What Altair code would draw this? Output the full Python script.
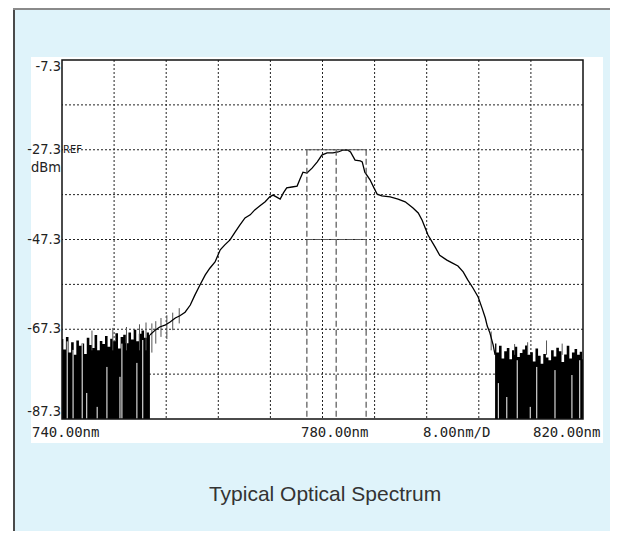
import altair as alt
import pandas as pd

# ---- data ----
curve_nm = [753.5,754.3,755.0,755.8,756.6,757.4,758.1,758.9,759.7,760.4,761.2,762.0,762.7,763.5,764.3,765.0,765.8,766.6,767.3,768.1,768.9,769.6,770.4,771.2,771.9,772.4,772.9,773.5,774.0,774.5,775.3,776.1,776.5,777.0,777.6,778.4,779.2,779.9,780.7,781.6,782.4,783.1,783.9,784.3,785.0,785.8,786.1,786.5,787.3,787.9,788.4,789.1,790.4,791.6,792.7,793.9,794.7,795.3,796.2,797.3,798.0,799.1,799.9,800.8,801.6,802.3,803.1,803.9,804.5,805.0,805.3,805.7,806.2,806.5]
curve_db = [-68.6,-67.5,-66.8,-66.4,-65.7,-64.8,-64.3,-63.5,-61.9,-59.7,-57.4,-55.2,-53.7,-52.3,-49.6,-48.5,-47.4,-45.6,-44.1,-42.5,-41.8,-40.7,-39.8,-38.9,-37.8,-37.4,-37.8,-38.3,-36.9,-35.8,-35.6,-35.4,-34.0,-32.3,-32.5,-31.4,-30.0,-28.5,-28.0,-28.0,-27.8,-27.4,-27.4,-27.8,-29.6,-29.8,-30.0,-32.3,-34.0,-35.8,-37.2,-37.6,-37.8,-38.3,-38.9,-40.3,-41.4,-43.0,-46.3,-49.0,-50.8,-51.9,-52.5,-53.2,-54.5,-56.3,-58.1,-60.1,-62.6,-64.8,-66.6,-68.1,-70.8,-73.0]

left_nm = [740.0,740.4,740.8,741.2,741.6,742.0,742.4,742.8,743.2,743.6,744.0,744.4,744.8,745.2,745.6,746.0,746.4,746.8,747.2,747.6,748.0,748.4,748.8,749.2,749.6,750.0,750.4,750.8,751.2,751.6,752.0,752.4,752.8,753.2,753.5]
left_top = [-69.5,-71.8,-69.0,-72.5,-70.2,-73.0,-69.8,-71.0,-70.5,-72.8,-69.2,-70.8,-71.5,-68.6,-72.0,-69.9,-70.6,-68.8,-71.2,-69.4,-70.0,-68.2,-71.6,-69.0,-68.5,-70.4,-68.0,-69.6,-67.4,-70.0,-68.3,-67.6,-69.2,-68.0,-68.6]

right_nm = [806.5,806.9,807.3,807.7,808.1,808.5,808.9,809.3,809.7,810.1,810.5,810.9,811.3,811.7,812.1,812.5,812.9,813.3,813.7,814.1,814.5,814.9,815.3,815.7,816.1,816.5,816.9,817.3,817.7,818.1,818.5,818.9,819.3,819.7,820.0]
right_top = [-70.5,-72.5,-71.0,-73.8,-72.2,-71.5,-74.0,-72.0,-71.2,-73.5,-72.6,-71.8,-70.9,-73.0,-72.4,-74.5,-71.6,-73.2,-75.0,-72.8,-73.6,-74.2,-72.0,-73.4,-71.4,-72.2,-74.6,-72.9,-71.0,-73.8,-72.5,-71.7,-73.0,-72.3,-74.0]

gap_nm = [740.8,741.7,743.1,743.8,745.4,746.9,748.9,749.2,751.5,752.4,807.0,808.3,809.9,811.9,812.9,815.7,818.3,819.5]
gap_top = [-70.0,-71.9,-70.5,-81.5,-84.6,-75.7,-77.9,-70.5,-74.8,-69.7,-79.3,-82.4,-74.2,-84.6,-75.7,-76.4,-77.5,-74.2]

# grey spikes (noise riding on the trace)
spike_nm = [744.6,747.8,749.9,751.9,752.9,753.8,754.4,755.2,756.1,757.0,758.0,805.9,809.5,811.5,814.4,816.8]
spike_top = [-67.6,-67.0,-66.8,-66.2,-65.8,-66.0,-65.5,-64.8,-64.2,-63.6,-62.6,-67.8,-70.6,-70.2,-69.8,-70.5]
spike_bot = [-72.0,-72.0,-72.0,-72.0,-72.0,-72.5,-70.5,-69.0,-69.5,-67.5,-66.0,-72.0,-73.0,-73.0,-73.0,-73.0]

marker_nm = [777.6, 782.1, 786.7]
marker_db = [-27.3, -47.3]

grid_nm = [748, 756, 764, 772, 780, 788, 796, 804, 812]
grid_db = [-77.3, -67.3, -57.3, -47.3, -37.3, -27.3, -17.3]
label_db = [-87.3, -67.3, -47.3, -27.3, -7.3]
label_txt = ["-87.3", "-67.3", "-47.3", "-27.3", "-7.3"]

x_texts = ["740.00nm", "780.00nm", "8.00nm/D", "820.00nm"]
title_text = "Typical Optical Spectrum"

FLOOR = -87.3
XD = [740, 820]
YD = [-87.3, -7.3]
xs = alt.Scale(domain=XD, nice=False, zero=False)
ys = alt.Scale(domain=YD, nice=False, zero=False)

one = pd.DataFrame({"k": [0]})
NARROW = "Liberation Sans Narrow, DejaVu Sans Condensed, Liberation Sans"

X = lambda f: alt.X(f, scale=xs, axis=None)
Y = lambda f: alt.Y(f, scale=ys, axis=None)

# ---- decorations ----
panel = alt.Chart(one).mark_rect(color="white").encode(
    x=alt.value(-31), x2=alt.value(541), y=alt.value(-3), y2=alt.value(383))
left_strip = alt.Chart(one).mark_rect(color="white").encode(
    x=alt.value(-60), x2=alt.value(-49), y=alt.value(-60), y2=alt.value(480))
left_border = alt.Chart(one).mark_rule(color="#4a4a4a", strokeWidth=2).encode(
    x=alt.value(-48), y=alt.value(-52), y2=alt.value(480))
top_border = alt.Chart(one).mark_rule(color="#8a8a8a", strokeWidth=2).encode(
    x=alt.value(-49), x2=alt.value(560), y=alt.value(-51))

# ---- grid ----
gx = alt.Chart(pd.DataFrame({"nm": grid_nm})).mark_rule(
    color="#222", strokeWidth=1, strokeDash=[2, 2]).encode(x=X("nm:Q"))
gy = alt.Chart(pd.DataFrame({"db": grid_db})).mark_rule(
    color="#222", strokeWidth=1, strokeDash=[2, 2]).encode(y=Y("db:Q"))

# ---- noise ----
noise_df = pd.concat([
    pd.DataFrame({"nm": left_nm, "top": left_top, "side": "L"}),
    pd.DataFrame({"nm": right_nm, "top": right_top, "side": "R"}),
])
noise_df["floor"] = FLOOR
noise = alt.Chart(noise_df).mark_area(color="black", opacity=1, interpolate="step").encode(
    x=X("nm:Q"), y=Y("top:Q"), y2="floor:Q", detail="side:N")
spikes = alt.Chart(pd.DataFrame({"nm": spike_nm, "top": spike_top, "bot": spike_bot})).mark_rule(
    color="#555", strokeWidth=1).encode(x=X("nm:Q"), y=Y("top:Q"), y2="bot:Q")
gaps = alt.Chart(pd.DataFrame({"nm": gap_nm, "top": gap_top, "floor": FLOOR})).mark_rule(
    color="white", strokeWidth=1).encode(x=X("nm:Q"), y=Y("top:Q"), y2="floor:Q")

# ---- spectrum ----
curve = alt.Chart(pd.DataFrame({"nm": curve_nm, "db": curve_db})).mark_line(
    color="black", strokeWidth=1.3).encode(x=X("nm:Q"), y=Y("db:Q"))

# ---- markers ----
mv = alt.Chart(pd.DataFrame({"nm": marker_nm, "top": marker_db[0], "floor": FLOOR})).mark_rule(
    color="#555", strokeWidth=1.2, strokeDash=[6, 3]).encode(
    x=X("nm:Q"), y=Y("top:Q"), y2="floor:Q")
mh = alt.Chart(pd.DataFrame({"db": marker_db, "a": marker_nm[0], "b": marker_nm[-1]})).mark_rule(
    color="#555", strokeWidth=1.2, strokeDash=[6, 2]).encode(
    x=X("a:Q"), x2="b:Q", y=Y("db:Q"))

# ---- frame ----
frame = alt.Chart(pd.DataFrame({"x0": [XD[0]], "x1": [XD[1]], "y0": [YD[0]], "y1": [YD[1]]})).mark_rect(
    fill=None, stroke="#111", strokeWidth=1.5).encode(
    x=X("x0:Q"), x2="x1:Q", y=Y("y0:Q"), y2="y1:Q")

# ---- y labels (flush at the ends, centred in between) ----
def ylab(idx, baseline):
    df = pd.DataFrame({"db": [label_db[i] for i in idx], "t": [label_txt[i] for i in idx]})
    return alt.Chart(df).mark_text(
        font=NARROW, fontSize=14.5, align="right", baseline=baseline, color="#222").encode(
        text="t:N", x=alt.value(-1), y=Y("db:Q"))
ylab_bot = ylab([0], "bottom")
ylab_mid = ylab([1, 2, 3], "middle")
ylab_top = ylab([4], "top")

# ---- texts ----
mono = "DejaVu Sans Mono"
xlab = alt.Chart(pd.DataFrame({"t": x_texts, "px": [-30, 239, 361, 471]})).mark_text(
    font=mono, fontSize=14, align="left", baseline="alphabetic", color="#222").encode(
    text="t:N", x=alt.X("px:Q", scale=None, axis=None), y=alt.value(377))
ref = alt.Chart(one).mark_text(text="REF", font="DejaVu Sans", fontSize=10,
                               align="left", baseline="middle", color="#222").encode(
    x=alt.value(1), y=alt.value(90))
dbm = alt.Chart(one).mark_text(text="dBm", font=NARROW,
                               fontSize=14.5, align="right", baseline="alphabetic", color="#222").encode(
    x=alt.value(-1), y=alt.value(112))
title = alt.Chart(one).mark_text(text=title_text, font="Liberation Sans", fontSize=21,
                                 align="center", baseline="alphabetic", color="#333").encode(
    x=alt.value(263), y=alt.value(441))

chart = alt.layer(
    panel, left_strip, left_border, top_border,
    gx, gy, noise, spikes, gaps, curve, mv, mh, frame,
    ylab_bot, ylab_mid, ylab_top, xlab, ref, dbm, title
).properties(
    width=521, height=359,
    autosize=alt.AutoSizeParams(type="none"),
    padding={"left": 54, "top": 52, "right": 27, "bottom": 112},
    background="#dff3fa",
).configure_view(stroke=None, fill=None)

chart.save("out.html", embed_options={"renderer": "svg", "actions": False})
